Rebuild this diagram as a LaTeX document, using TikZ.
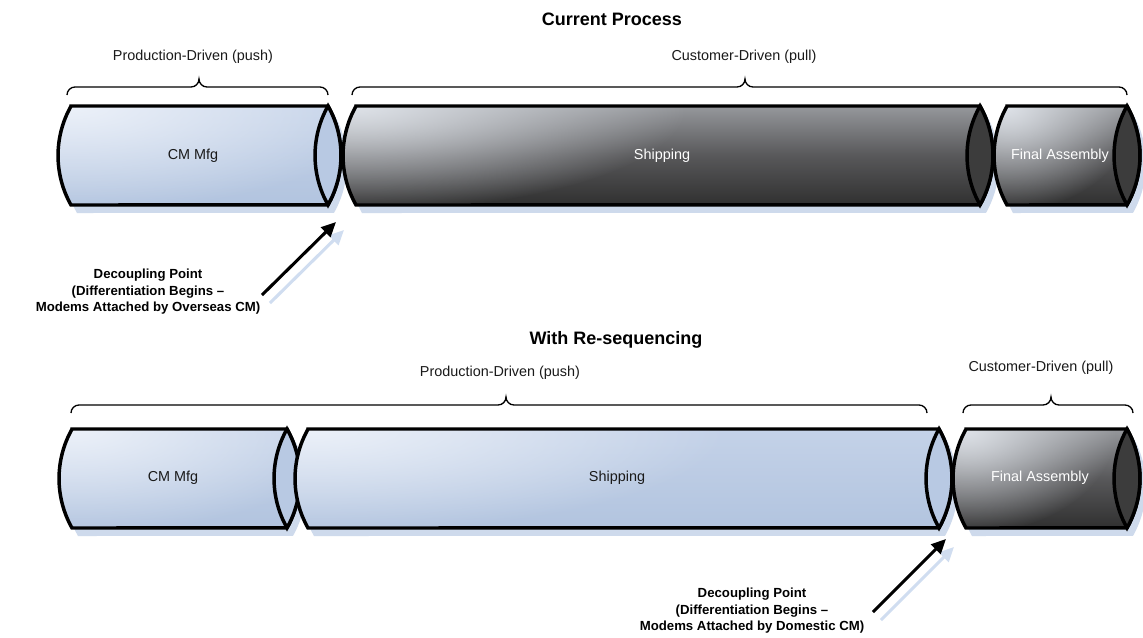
\documentclass[tikz,border=0pt]{standalone}
\usepackage{fontspec}
\setmainfont{Liberation Sans}
\usetikzlibrary{arrows.meta,fadings}

\definecolor{tubeshadow}{RGB}{206,218,236}
\definecolor{arrowshade}{RGB}{208,221,240}
\definecolor{blueTop}{RGB}{196,210,232}
\definecolor{blueBottom}{RGB}{178,196,223}
\definecolor{blueGlow}{RGB}{236,241,249}
\definecolor{blueCap}{RGB}{184,201,227}
\definecolor{greyTop}{RGB}{150,152,156}
\definecolor{greyMid}{RGB}{88,88,90}
\definecolor{greyBottom}{RGB}{48,48,48}
\definecolor{greyGlow}{RGB}{222,226,232}
\definecolor{greyCap}{RGB}{60,60,60}
\definecolor{inktext}{RGB}{26,26,26}

\tikzfading[name=glow, inner color=transparent!0, outer color=transparent!100]

\tikzset{
  outline/.style={draw=black, line width=2.6pt, line join=miter},
  bluebody/.style={top color=blueTop, bottom color=blueBottom},
  greybody/.style={top color=greyTop, bottom color=greyBottom, middle color=greyMid},
  bluelabel/.style={font=\fontsize{10.8pt}{13pt}\selectfont, text=inktext},
  greylabel/.style={font=\fontsize{10.8pt}{13pt}\selectfont, text=white},
  spanlabel/.style={font=\fontsize{10.8pt}{13pt}\selectfont, text=inktext},
  heading/.style={font=\bfseries\fontsize{13.5pt}{16pt}\selectfont},
  dptext/.style={font=\bfseries\fontsize{9.9pt}{12.4pt}\selectfont, align=center},
  bracepen/.style={draw=black, line width=1pt},
  pointer/.style={line width=2.3pt, -{Triangle[length=11pt,width=10pt]}},
  pointershadow/.style={pointer, draw=arrowshade, color=arrowshade},
}

% A horizontal tube: left x, right x, top y, bottom y, body style, cap colour,
% highlight colour, highlight x radius.
% Both ends are circular arcs with a sagitta of 13 units over the tube height.
\newcommand{\tube}[8]{%
  \fill[tubeshadow, xshift=4.5pt, yshift=-6pt]
    (#1,#3) -- (#2,#3) arc[start angle=29.4, end angle=-29.4, radius=100.7]
    -- (#1,#4) arc[start angle=209.4, end angle=150.6, radius=100.7] -- cycle;
  \path[#5]
    (#1,#3) -- (#2,#3) arc[start angle=29.4, end angle=-29.4, radius=100.7]
    -- (#1,#4) arc[start angle=209.4, end angle=150.6, radius=100.7] -- cycle;
  \begin{scope}
    \clip (#1,#3) -- (#2,#3) arc[start angle=29.4, end angle=-29.4, radius=100.7]
      -- (#1,#4) arc[start angle=209.4, end angle=150.6, radius=100.7] -- cycle;
    \fill[#7, path fading=glow] (#1,#3) ellipse[x radius=#8, y radius=105];
  \end{scope}
  \draw[outline]
    (#1,#3) -- (#2,#3) arc[start angle=29.4, end angle=-29.4, radius=100.7]
    -- (#1,#4) arc[start angle=209.4, end angle=150.6, radius=100.7] -- cycle;
  \draw[outline, fill=#6]
    (#2,#3) arc[start angle=29.4, end angle=-29.4, radius=100.7]
    arc[start angle=209.4, end angle=150.6, radius=100.7] -- cycle;
}

% A curly brace: left x, right x, tip x, y of the two ends.
\newcommand{\curly}[4]{%
  \draw[bracepen] (#1,#4) to[out=90, in=180] ({#1+8},{#4+8})
    -- ({#3-8},{#4+8}) to[out=0, in=-90] (#3,{#4+16})
    to[out=-90, in=180] ({#3+8},{#4+8})
    -- ({#2-8},{#4+8}) to[out=0, in=90] (#2,#4);
}

\begin{document}
\begin{tikzpicture}[x=0.75pt, y=0.75pt]
  \fill[white] (0,0) rectangle (1143,-637);
  \useasboundingbox (0,0) rectangle (1143,-637);

  % ---------- current process ----------
  \node[heading] (titleA) at (612,-19) {Current Process};

  \curly{67}{328}{199}{-95}
  \curly{352}{1127}{745}{-95}
  \node[spanlabel] (pushA) at (193,-57) {Production-Driven (push)};
  \node[spanlabel] (pullA) at (744,-57) {Customer-Driven (pull)};

  \tube{71}{328}{-106}{-205}{bluebody}{blueCap}{blueGlow}{320}
  \tube{356}{980}{-106}{-205}{greybody}{greyCap}{greyGlow}{330}
  \tube{1007}{1127}{-106}{-205}{greybody}{greyCap}{greyGlow}{130}

  \node[bluelabel] (mfgA) at (193,-156) {CM Mfg};
  \node[greylabel] (shipA) at (662,-156) {Shipping};
  \node[greylabel] (finalA) at (1060,-156) {Final Assembly};

  \coordinate (tailA) at (262,-295);
  \coordinate (tipA) at (336,-222);
  \draw[pointershadow] ([shift={(8,-8)}]tailA) -- ([shift={(8,-8)}]tipA);
  \draw[pointer] (tailA) -- (tipA);
  \node[dptext] (dpA) at (148,-292)
    {Decoupling Point\\(Differentiation Begins –\\Modems Attached by Overseas CM)};

  % ---------- with re-sequencing ----------
  \node[heading] (titleB) at (616,-340) {With Re-sequencing};

  \curly{71}{927}{506}{-413}
  \curly{963}{1133}{1051}{-413}
  \node[spanlabel] (pushB) at (500,-373) {Production-Driven (push)};
  \node[spanlabel] (pullB) at (1041,-368) {Customer-Driven (pull)};

  \tube{72}{287}{-429}{-528}{bluebody}{blueCap}{blueGlow}{280}
  \tube{308}{939}{-429}{-528}{bluebody}{blueCap}{blueGlow}{420}
  \tube{966}{1127}{-429}{-528}{greybody}{greyCap}{greyGlow}{150}

  \node[bluelabel] (mfgB) at (173,-478) {CM Mfg};
  \node[bluelabel] (shipB) at (617,-478) {Shipping};
  \node[greylabel] (finalB) at (1040,-478) {Final Assembly};

  \coordinate (tailB) at (873,-612);
  \coordinate (tipB) at (946,-539);
  \draw[pointershadow] ([shift={(8,-8)}]tailB) -- ([shift={(8,-8)}]tipB);
  \draw[pointer] (tailB) -- (tipB);
  \node[dptext] (dpB) at (752,-611)
    {Decoupling Point\\(Differentiation Begins –\\Modems Attached by Domestic CM)};
\end{tikzpicture}
\end{document}
